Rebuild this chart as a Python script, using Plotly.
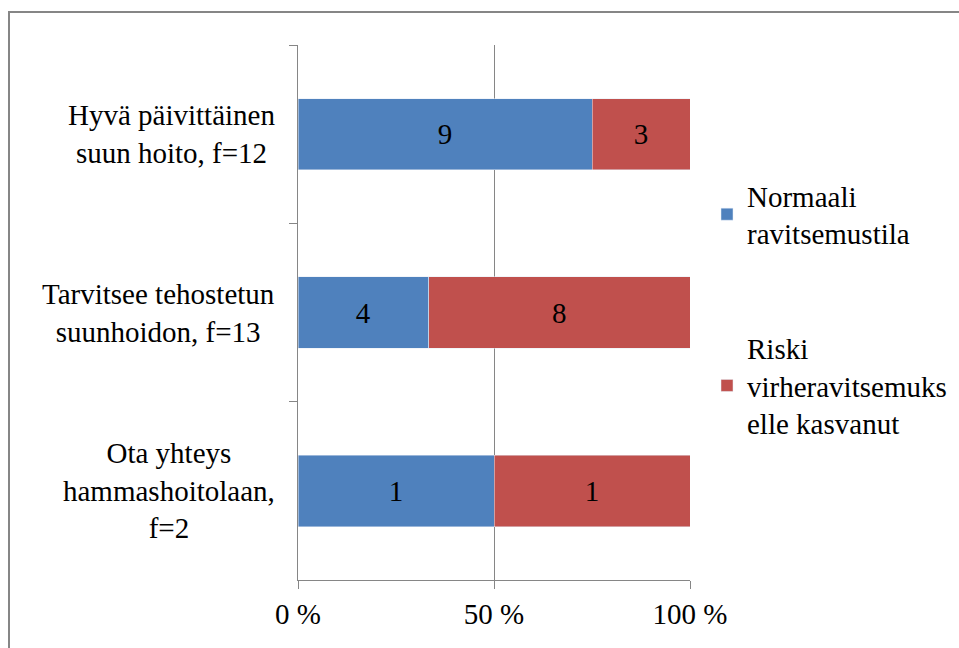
import plotly.graph_objects as go

categories = ["Hyvä päivittäinen<br>suun hoito, f=12",
              "Tarvitsee tehostetun<br>suunhoidon, f=13",
              "Ota yhteys<br>hammashoitolaan,<br>f=2"]
normaali = [9, 4, 1]
riski = [3, 8, 1]
series_names = ["Normaali<br>ravitsemustila", "Riski<br>virheravitsemuks<br>elle kasvanut"]
tick_vals = [0, 0.5, 1]
tick_text = ["0 %", "50 %", "100 %"]

FONT = "Liberation Serif"
FS = 29

W, H = 959, 648
L, R, T, B = 298, 269, 45, 68
pw, ph = W - L - R, H - T - B

def px_x(x):
    return (x - L) / pw

def px_y(y):
    return 1 - (y - T) / ph

fig = go.Figure()
fig.add_trace(go.Bar(y=categories, x=normaali, orientation="h",
                     name=series_names[0], marker_color="#4F81BD",
                     text=normaali, textposition="inside", insidetextanchor="middle",
                     textfont=dict(family=FONT, size=FS, color="black"),
                     legendgroup="a"))
fig.add_trace(go.Bar(y=categories, x=riski, orientation="h",
                     name=series_names[1], marker_color="#C0504D",
                     text=riski, textposition="inside", insidetextanchor="middle",
                     textfont=dict(family=FONT, size=FS, color="black"),
                     legendgroup="b"))

annotations = []
for c in categories:
    annotations.append(dict(x=px_x(277), y=c, xref="paper", yref="y", text=c,
                            showarrow=False, xanchor="right", yanchor="middle",
                            align="center", font=dict(family=FONT, size=FS, color="black")))

fig.update_layout(
    width=W, height=H,
    margin=dict(l=L, r=R, t=T, b=B, autoexpand=False),
    barmode="stack", barnorm="fraction", bargap=0.6,
    plot_bgcolor="white", paper_bgcolor="white",
    font=dict(family=FONT, size=FS, color="black"),
    uniformtext=dict(minsize=FS, mode="show"),
    xaxis=dict(range=[0, 1], tickvals=tick_vals, ticktext=tick_text,
               showgrid=True, gridcolor="#868686", gridwidth=1,
               showline=True, linecolor="#868686", linewidth=1,
               ticks="outside", ticklen=8, tickcolor="#868686",
               zeroline=False, fixedrange=True,
               tickfont=dict(family=FONT, size=FS)),
    yaxis=dict(autorange="reversed", showticklabels=False,
               showline=True, linecolor="#868686", linewidth=1,
               ticks="outside", ticklen=8, tickcolor="#868686", tickson="boundaries",
               showgrid=False, zeroline=False),
    legend=dict(x=px_x(707), y=px_y(170), xanchor="left", yanchor="top",
                traceorder="grouped", tracegroupgap=74,
                font=dict(family=FONT, size=FS), itemwidth=30,
                bgcolor="rgba(0,0,0,0)"),
    annotations=annotations,
    shapes=[dict(type="rect", xref="paper", yref="paper",
                 x0=px_x(9), x1=px_x(975), y0=px_y(670), y1=px_y(12),
                 line=dict(color="#868686", width=2), fillcolor="rgba(0,0,0,0)",
                 layer="above")],
    showlegend=True,
)

fig.write_html("out.html")
